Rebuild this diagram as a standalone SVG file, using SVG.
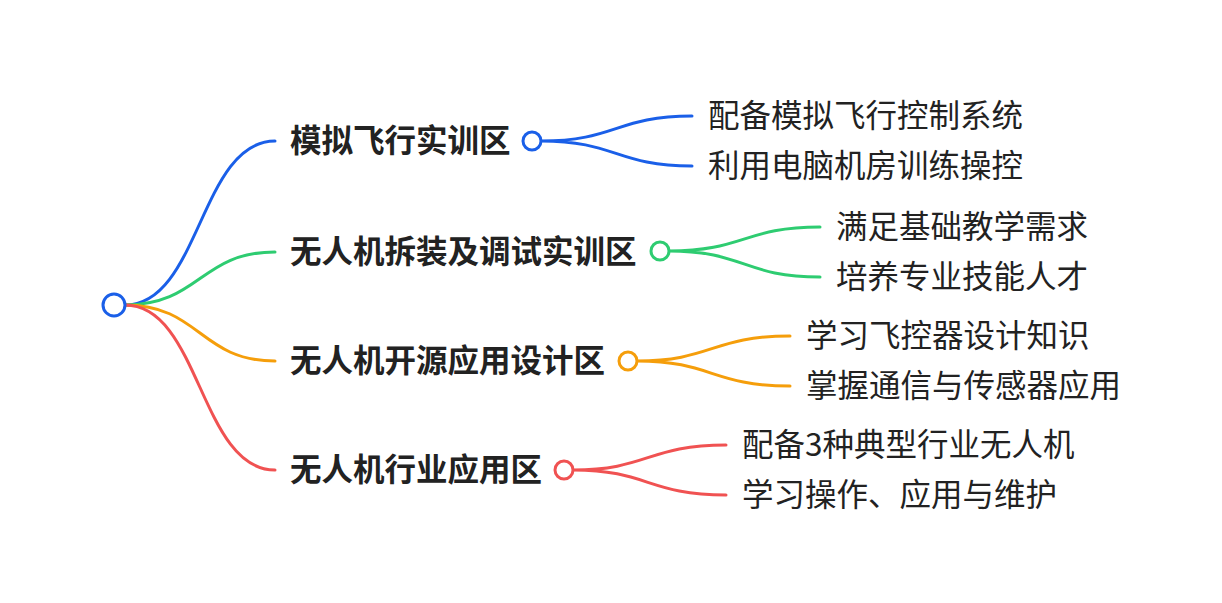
<svg xmlns="http://www.w3.org/2000/svg" width="1222" height="603" viewBox="0 0 1222 603">
<style>
.c{fill:none;stroke-width:3;stroke-linecap:round}
.n{fill:#fff;stroke-width:3}
.b{font-family:"Noto Sans CJK SC",sans-serif;font-size:31.5px;font-weight:bold;fill:#222}
.l{font-family:"Noto Sans CJK SC",sans-serif;font-size:31.5px;fill:#222}
</style>
<rect width="1222" height="603" fill="#fff"/>
<g id="connectors">
<path class="c" stroke="#1a5fe8" d="M125,305 C200,305 200,141 275,141"/>
<path class="c" stroke="#1a5fe8" d="M541,141 C616,141 616,116 692,116 M541,141 C616,141 616,166 692,166"/>
<path class="c" stroke="#2ecc71" d="M125,305 C200,305 200,252 275,252"/>
<path class="c" stroke="#2ecc71" d="M669,251 C744,251 744,227 820,227 M669,251 C744,251 744,277 820,277"/>
<path class="c" stroke="#f59e0b" d="M125,305 C200,305 200,361 275,361"/>
<path class="c" stroke="#f59e0b" d="M637,361 C712,361 712,336 790,336 M637,361 C712,361 712,386 790,386"/>
<path class="c" stroke="#f05252" d="M125,305 C200,305 200,470 275,470"/>
<path class="c" stroke="#f05252" d="M573,470 C648,470 648,445 726,445 M573,470 C648,470 648,495 726,495"/>
</g>
<g id="root"><circle class="n" stroke="#1a5fe8" cx="114" cy="305" r="11"/></g>
<g id="n1"><text class="b" x="290" y="152">模拟飞行实训区</text><circle class="n" stroke="#1a5fe8" cx="532" cy="141" r="9"/></g>
<g id="n1a"><text class="l" x="708" y="127">配备模拟飞行控制系统</text></g>
<g id="n1b"><text class="l" x="708" y="177">利用电脑机房训练操控</text></g>
<g id="n2"><text class="b" x="290" y="263">无人机拆装及调试实训区</text><circle class="n" stroke="#2ecc71" cx="660" cy="251" r="9"/></g>
<g id="n2a"><text class="l" x="836" y="238">满足基础教学需求</text></g>
<g id="n2b"><text class="l" x="836" y="288">培养专业技能人才</text></g>
<g id="n3"><text class="b" x="290" y="372">无人机开源应用设计区</text><circle class="n" stroke="#f59e0b" cx="628" cy="361" r="9"/></g>
<g id="n3a"><text class="l" x="806" y="347">学习飞控器设计知识</text></g>
<g id="n3b"><text class="l" x="806" y="397">掌握通信与传感器应用</text></g>
<g id="n4"><text class="b" x="290" y="481">无人机行业应用区</text><circle class="n" stroke="#f05252" cx="564" cy="470" r="9"/></g>
<g id="n4a"><text class="l" x="742" y="456">配备3种典型行业无人机</text></g>
<g id="n4b"><text class="l" x="742" y="506">学习操作、应用与维护</text></g>
</svg>
